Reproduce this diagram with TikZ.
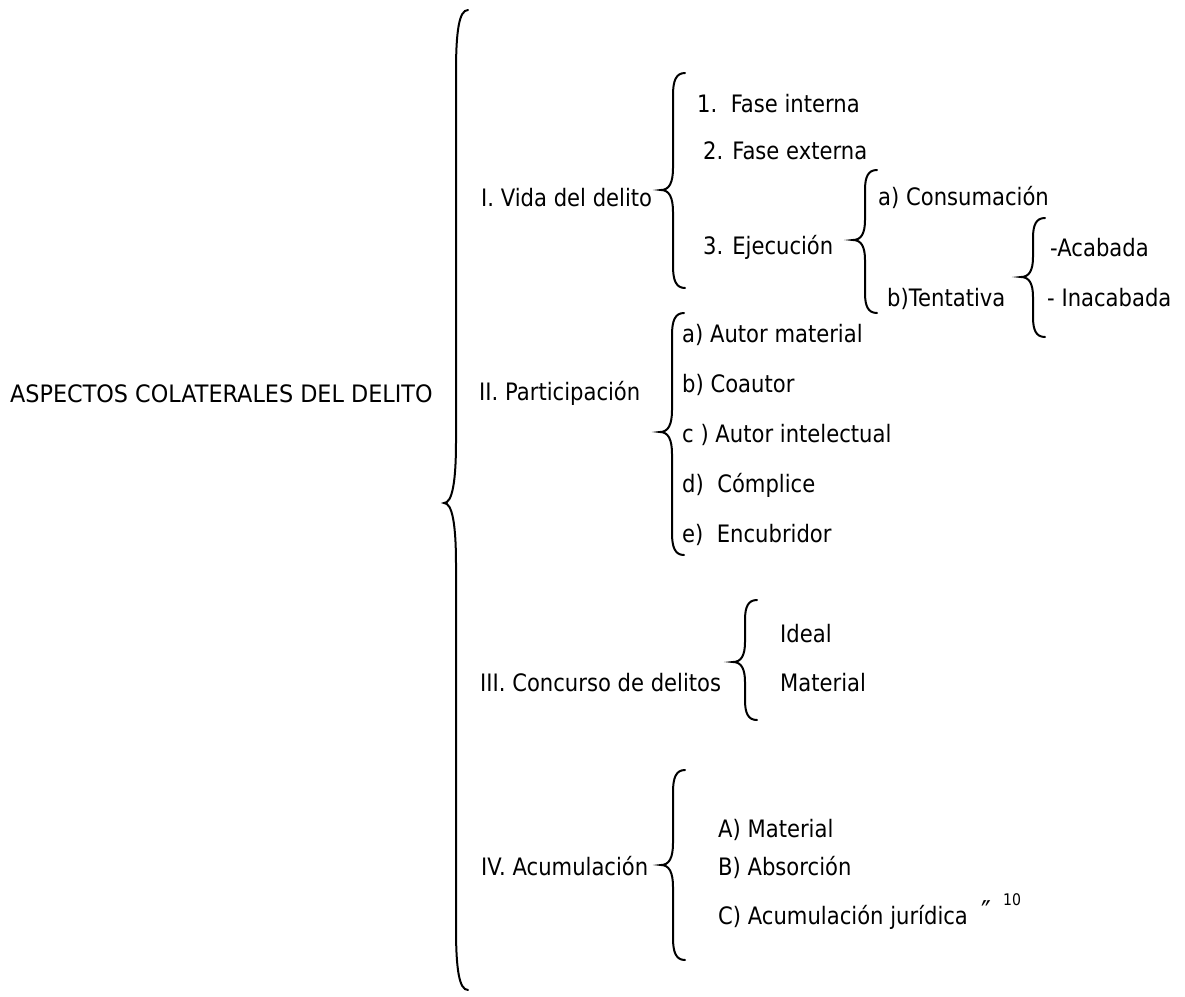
\documentclass[tikz,border=0pt]{standalone}
\usepackage{fontspec}
\setmainfont[FakeStretch=0.88]{DejaVu Sans}
\newfontfamily\capsfont[FakeStretch=0.93]{DejaVu Sans}
\newcommand\fs{\fontsize{24}{28}\selectfont}
\newcommand\mybrace[6]{% #1 line x, #2 top, #3 tip y, #4 bottom, #5 half width, #6 curl height
  \draw[bracestyle] ({#1+#5},#2) .. controls ({#1+0.25*#5},#2) and (#1,{#2+0.35*#6}) .. (#1,{#2+#6})
    -- (#1,{#3-#6}) .. controls (#1,{#3-0.35*#6}) and ({#1-0.3*#5},#3) .. ({#1-#5},#3)
    .. controls ({#1-0.3*#5},#3) and (#1,{#3+0.35*#6}) .. (#1,{#3+#6})
    -- (#1,{#4-#6}) .. controls (#1,{#4-0.35*#6}) and ({#1+0.25*#5},#4) .. ({#1+#5},#4);}
\begin{document}
\begin{tikzpicture}[x=1pt,y=-1pt,
  every node/.style={inner sep=0pt, anchor=base west, font=\fs},
  bracestyle/.style={line width=2pt, line cap=round}]
\useasboundingbox[fill=white] (0,0) rectangle (1185,996);

% main
\node[font=\capsfont\fs] (root) at (10,402) {ASPECTOS COLATERALES DEL DELITO};
\mybrace{456}{10}{503}{990}{12}{62}

% I
\node (vida) at (481,206) {I. Vida del delito};
\mybrace{673}{73}{190}{288}{12}{22}
\node (f1) at (697,112) {1.\ \ Fase interna};
\node (f2) at (703,159) {2. Fase externa};
\node (f3) at (703,254) {3. Ejecución};
\mybrace{865}{170}{240}{313}{12}{20}
\node (cons) at (878,205) {a) Consumación};
\node (tent) at (887,306) {b)Tentativa};
\mybrace{1033}{218}{277}{337}{12}{20}
\node (acab) at (1050,256) {-Acabada};
\node (inac) at (1047,306) {- Inacabada};

% II
\node (part) at (479,400) {II. Participación};
\mybrace{672}{313}{432}{555}{12}{22}
\node (p1) at (682,342) {a) Autor material};
\node (p2) at (682,392) {b) Coautor};
\node (p3) at (682,442) {c ) Autor intelectual};
\node (p4) at (682,492) {d)\ \ Cómplice};
\node (p5) at (682,542) {e)\ \ Encubridor};

% III
\node (conc) at (480,691) {III. Concurso de delitos};
\mybrace{745}{600}{662}{720}{12}{20}
\node (c1) at (780,642) {Ideal};
\node (c2) at (780,691) {Material};

% IV
\node (acum) at (481,875) {IV. Acumulación};
\mybrace{673}{770}{865}{960}{12}{22}
\node (a1) at (718,837) {A) Material};
\node (a2) at (718,875) {B) Absorción};
\node (a3) at (718,924) {C) Acumulación jurídica};
\node[font=\fontsize{30}{32}\selectfont] (q) at (981,922) {″};
\node[font=\fontsize{16}{18}\selectfont] (fn) at (1003,905) {10};
\end{tikzpicture}
\end{document}
